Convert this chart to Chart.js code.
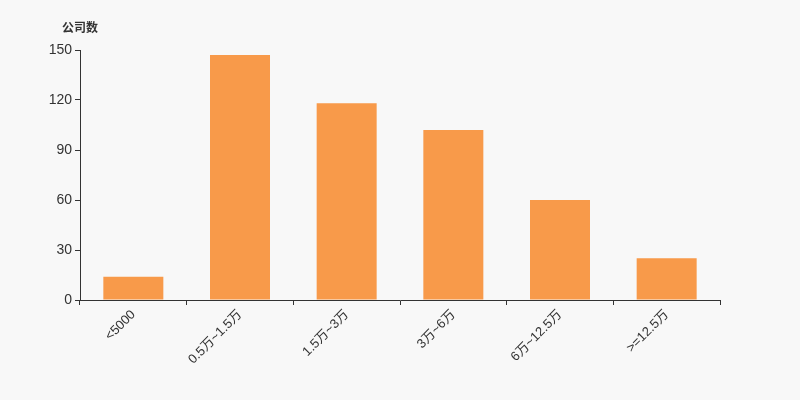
<!DOCTYPE html>
<html>
<head>
<meta charset="utf-8">
<script src="https://cdn.jsdelivr.net/npm/chart.js@4"></script>
<style>
    html, body { margin: 0; padding: 0; background: #f8f8f8; }
    .chart-box { width: 800px; height: 400px; position: relative; }
</style>
</head>
<body>
<div class="chart-box">
    <canvas id="barChart"></canvas>
</div>
<script>
    // Données
    const categories = ['<5000', '0.5万~1.5万', '1.5万~3万', '3万~6万', '6万~12.5万', '>=12.5万'];
    const companyCounts = [14, 147, 118, 102, 60, 25];
    const yAxisTitle = '公司数';

    const fontFamily = '"Liberation Sans", Arial, "Noto Sans CJK SC", sans-serif';

    // titre de l'axe Y, en haut à gauche
    const yTitlePlugin = {
        id: 'yTitle',
        afterDraw(chart) {
            const ctx = chart.ctx;
            ctx.save();
            ctx.font = 'bold 12px ' + fontFamily;
            ctx.fillStyle = '#333';
            ctx.textAlign = 'center';
            ctx.textBaseline = 'middle';
            ctx.fillText(yAxisTitle, chart.chartArea.left, 29);
            ctx.restore();
        }
    };

    const barCtx = document.getElementById('barChart').getContext('2d');
    const barChart = new Chart(barCtx, {
        type: 'bar',
        data: {
            labels: categories,
            datasets: [{
                label: yAxisTitle,
                data: companyCounts,
                backgroundColor: '#f89a4a',
                barPercentage: 0.5625,
                categoryPercentage: 1
            }]
        },
        options: {
            responsive: true,
            maintainAspectRatio: false,
            animation: false,
            layout: { padding: { top: 50, right: 80, bottom: 0, left: 0 } },
            plugins: {
                legend: { display: false },
                tooltip: { enabled: false }
            },
            scales: {
                x: {
                    offset: true,
                    border: { display: true, color: '#333', width: 1 },
                    grid: {
                        offset: true,
                        drawOnChartArea: false,
                        drawTicks: true,
                        tickLength: 5,
                        color: '#333'
                    },
                    ticks: {
                        color: '#333',
                        font: { size: 13, family: fontFamily },
                        minRotation: 45,
                        maxRotation: 45,
                        padding: 2,
                        autoSkip: false
                    },
                    afterFit(scale) { scale.height = 100; }
                },
                y: {
                    min: 0,
                    max: 150,
                    border: { display: true, color: '#333', width: 1 },
                    grid: {
                        drawOnChartArea: false,
                        drawTicks: true,
                        tickLength: 5,
                        color: '#333'
                    },
                    ticks: {
                        stepSize: 30,
                        color: '#333',
                        font: { size: 14, family: fontFamily },
                        padding: 3
                    },
                    afterFit(scale) { scale.width = 80; }
                }
            }
        },
        plugins: [yTitlePlugin]
    });
</script>
</body>
</html>
